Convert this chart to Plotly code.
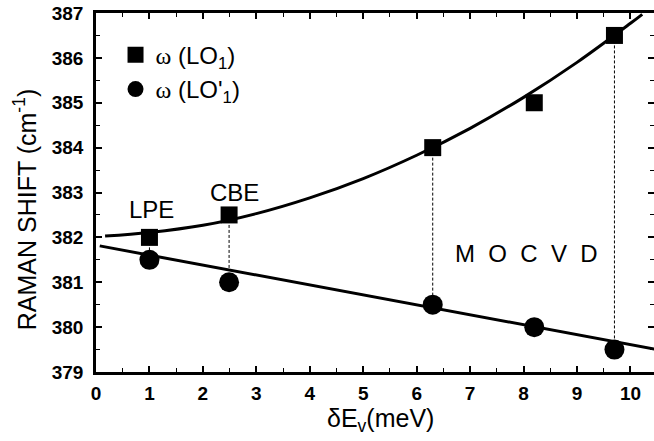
import plotly.graph_objects as go

# data
dEv = [1.0, 2.49, 6.3, 8.2, 9.7]
lo1 = [382.0, 382.5, 384.0, 385.0, 386.5]
lo1p = [381.5, 381.0, 380.5, 380.0, 379.5]

# fitted curve
fit_up_x = [0.17, 1.0, 2.0, 3.0, 4.0, 5.0, 6.0, 7.0, 8.0, 9.0, 10.0, 10.22]
fit_up_y = [382.03, 382.11, 382.27, 382.53, 382.88, 383.31, 383.83, 384.43, 385.12, 385.9, 386.77, 386.97]
fit_lo_x = [0.07, 10.5]
fit_lo_y = [381.81, 379.5]

# vertical dotted connectors
drop_x = [1.0, 2.49, 6.3, 9.7]
drop_top = [382.0, 382.5, 384.0, 386.5]
drop_bot = [381.58, 381.25, 380.42, 379.66]

labels = [("LPE", 1.04, 382.63), ("CBE", 2.6, 383.0), ("M  O  C  V  D", 8.05, 381.65)]

FONT = "Liberation Sans, Arial, sans-serif"
W = "<span style='font-family:Liberation Serif, Times New Roman, serif'>ω</span>"

fig = go.Figure()

dx, dy = [], []
for x, t, b in zip(drop_x, drop_top, drop_bot):
    dx += [x, x, None]
    dy += [t, b, None]
fig.add_trace(go.Scatter(x=dx, y=dy, mode="lines", showlegend=False,
                         line=dict(color="black", width=1, dash="3px,2px")))

fig.add_trace(go.Scatter(x=fit_up_x, y=fit_up_y, mode="lines", showlegend=False,
                         line=dict(color="black", width=3, shape="spline")))
fig.add_trace(go.Scatter(x=fit_lo_x, y=fit_lo_y, mode="lines", showlegend=False,
                         line=dict(color="black", width=3)))

fig.add_trace(go.Scatter(x=dEv, y=lo1, mode="markers", name=W + " (LO<sub>1</sub>)",
                         marker=dict(symbol="square", size=17, color="black")))
fig.add_trace(go.Scatter(x=dEv, y=lo1p, mode="markers", name=W + " (LO'<sub>1</sub>)",
                         marker=dict(symbol="circle", size=20, color="black")))

# right-side ticks without line
fig.add_trace(go.Scatter(x=[None], y=[None], yaxis="y2", showlegend=False))

for txt, x, y in labels:
    fig.add_annotation(x=x, y=y, text=txt, showarrow=False,
                       font=dict(family=FONT, size=24, color="black"))

fig.add_annotation(xref="paper", yref="paper", x=-0.127, y=0.451,
                   xanchor="center", yanchor="middle",
                   text="RAMAN SHIFT (cm<sup>-1</sup>)", textangle=-90, showarrow=False,
                   font=dict(family=FONT, size=25, color="black"))
fig.add_annotation(xref="paper", yref="paper", x=0.509, y=-0.135,
                   xanchor="center", yanchor="middle",
                   text="δE<sub>v</sub>(meV)", showarrow=False,
                   font=dict(family=FONT, size=25, color="black"))

axis_common = dict(ticks="inside", tickcolor="black", tickwidth=1.5, ticklen=6,
                   showgrid=False, zeroline=False,
                   tickfont=dict(family=FONT, size=19, color="black", weight="bold"))

fig.update_layout(
    width=654, height=441,
    margin=dict(l=96, r=0, t=13, b=69),
    paper_bgcolor="white", plot_bgcolor="white",
    xaxis=dict(range=[0, 10.44], dtick=1, tick0=0, showline=True, linecolor="black",
               linewidth=2.5, mirror="ticks", ticklabelstandoff=2,
               minor=dict(ticks="inside", dtick=0.5, ticklen=4, tickwidth=1.2, tickcolor="black"),
               **axis_common),
    yaxis=dict(range=[379, 387], dtick=1, tick0=379, showline=True, linecolor="black",
               linewidth=2.5, ticklabelstandoff=6,
               minor=dict(ticks="inside", dtick=0.5, ticklen=4, tickwidth=1.2, tickcolor="black"),
               **axis_common),
    yaxis2=dict(overlaying="y", side="right", range=[379, 387], dtick=1, tick0=379,
                ticks="inside", ticklen=6, tickwidth=1.5, tickcolor="black",
                showticklabels=False, showline=False, showgrid=False, zeroline=False,
                minor=dict(ticks="inside", dtick=0.5, ticklen=4, tickwidth=1.2, tickcolor="black")),
    showlegend=True,
    legend=dict(x=0.035, y=0.945, xanchor="left", yanchor="top", bgcolor="rgba(0,0,0,0)",
                font=dict(family=FONT, size=24, color="black"), tracegroupgap=0,
                itemsizing="trace"),
)

fig.write_html("out.html")
